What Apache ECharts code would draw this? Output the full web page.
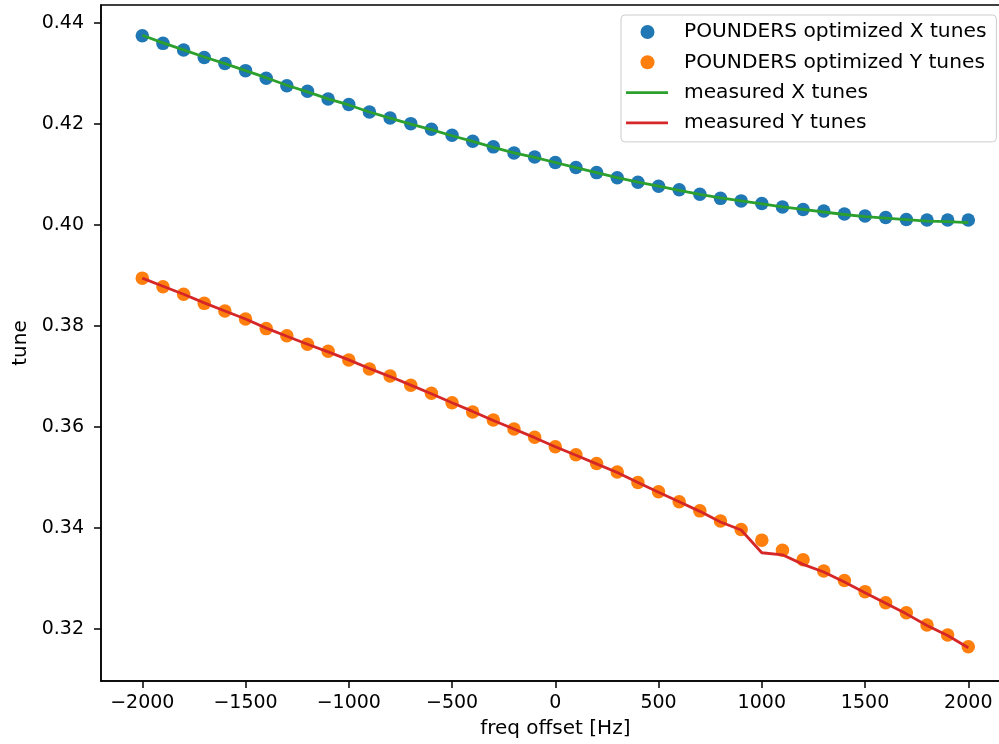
<!DOCTYPE html>
<html>
<head>
<meta charset="utf-8">
<script src="https://cdn.jsdelivr.net/npm/echarts@6/dist/echarts.min.js"></script>
<style>
  html, body { margin: 0; padding: 0; background: #fff; }
  #chart { width: 999px; height: 744px; }
</style>
</head>
<body>
<div id="chart"></div>
<script>
// frequency offsets [Hz]
const freqOffset = [
  -2000, -1900, -1800, -1700, -1600, -1500, -1400, -1300, -1200, -1100,
  -1000, -900, -800, -700, -600, -500, -400, -300, -200, -100,
  0, 100, 200, 300, 400, 500, 600, 700, 800, 900,
  1000, 1100, 1200, 1300, 1400, 1500, 1600, 1700, 1800, 1900, 2000
]

// POUNDERS optimized tunes
const optX = [
  0.4375, 0.4360, 0.4347, 0.4332, 0.4320, 0.4306, 0.4291, 0.4276, 0.4265, 0.4250,
  0.4239, 0.4224, 0.4212, 0.4201, 0.4190, 0.4178, 0.4166, 0.4155, 0.4143, 0.4135,
  0.4124, 0.4114, 0.4104, 0.4094, 0.4085, 0.4077, 0.4070, 0.4061, 0.4053, 0.4048,
  0.4043, 0.4036, 0.4031, 0.4028, 0.4022, 0.4018, 0.4015, 0.4011, 0.4010, 0.4010, 0.4010
]
const optY = [
  0.3895, 0.3878, 0.3863, 0.3845, 0.3830, 0.3814, 0.3795, 0.3781, 0.3764, 0.3750,
  0.3733, 0.3715, 0.3701, 0.3683, 0.3667, 0.3648, 0.3630, 0.3614, 0.3596, 0.3580,
  0.3561, 0.3545, 0.3528, 0.3511, 0.3490, 0.3472, 0.3452, 0.3434, 0.3414, 0.3397,
  0.3376, 0.3356, 0.3337, 0.3315, 0.3296, 0.3274, 0.3252, 0.3232, 0.3208, 0.3188, 0.3165
]

// measured tunes
const measX = [
  0.4376, 0.4361, 0.4347, 0.4333, 0.4320, 0.4306, 0.4292, 0.4277, 0.4264, 0.4250,
  0.4238, 0.4224, 0.4212, 0.4200, 0.4189, 0.4177, 0.4166, 0.4154, 0.4143, 0.4134,
  0.4124, 0.4114, 0.4104, 0.4094, 0.4085, 0.4077, 0.4069, 0.4061, 0.4054, 0.4048,
  0.4042, 0.4036, 0.4031, 0.4026, 0.4021, 0.4017, 0.4014, 0.4011, 0.4008, 0.4007, 0.4005
]
const measY = [
  0.3895, 0.3879, 0.3863, 0.3846, 0.3830, 0.3814, 0.3796, 0.3780, 0.3764, 0.3749,
  0.3733, 0.3716, 0.3700, 0.3683, 0.3666, 0.3648, 0.3631, 0.3613, 0.3596, 0.3579,
  0.3561, 0.3544, 0.3527, 0.3510, 0.3490, 0.3471, 0.3452, 0.3433, 0.3412, 0.3396,
  0.3351, 0.3347, 0.3328, 0.3313, 0.3293, 0.3272, 0.3251, 0.3230, 0.3207, 0.3187, 0.3163
]

const xTicks = [-2000, -1500, -1000, -500, 0, 500, 1000, 1500, 2000]
const yTicks = [0.32, 0.34, 0.36, 0.38, 0.40, 0.42, 0.44]

const pairs = (ys) => freqOffset.map((x, i) => [x, ys[i]])

const font = 'DejaVu Sans'
const dotIcon = 'path://M0,0 L0,0 M53,14 L53,14 M14.5,7 A7,7 0 1 1 28.5,7 A7,7 0 1 1 14.5,7 Z'
const lineIcon = 'path://M0,0 L0,0 M53,14 L53,14 M0,5.6 L42,5.6 L42,8.4 L0,8.4 Z'

const chart = echarts.init(document.getElementById('chart'))
chart.setOption({
  animation: false,
  textStyle: { fontFamily: font },
  grid: {
    left: 101, top: 5, width: 908.6, height: 676,
    outerBoundsMode: 'none', containLabel: false,
    show: true, borderColor: '#000', borderWidth: 1.5, backgroundColor: 'transparent'
  },
  legend: {
    orient: 'vertical',
    left: 621, top: 15,
    itemWidth: 53, itemHeight: 14, itemGap: 10.3,
    padding: [7, 10, 9, 5],
    backgroundColor: 'rgba(255,255,255,0.8)',
    borderColor: '#cccccc', borderWidth: 1, borderRadius: 4,
    itemStyle: { borderWidth: 0 },
    textStyle: { fontSize: 20.2, color: '#000', fontFamily: font },
    data: [
      { name: 'POUNDERS optimized X tunes', icon: dotIcon },
      { name: 'POUNDERS optimized Y tunes', icon: dotIcon },
      { name: 'measured X tunes', icon: lineIcon },
      { name: 'measured Y tunes', icon: lineIcon }
    ]
  },
  xAxis: {
    type: 'value', min: -2200, max: 2200,
    name: 'freq offset [Hz]', nameLocation: 'middle', nameGap: 38,
    nameTextStyle: { fontSize: 20, color: '#000', fontFamily: font },
    axisLine: { show: true, onZero: false, lineStyle: { color: '#000', width: 1.5 } },
    axisTick: { show: true, length: 7, lineStyle: { color: '#000', width: 1.5 }, customValues: xTicks },
    axisLabel: {
      customValues: xTicks, fontSize: 19, color: '#000', margin: 13, fontFamily: font,
      formatter: (v) => (v < 0 ? '\u2212' + Math.abs(v) : String(v))
    },
    splitLine: { show: false }
  },
  yAxis: {
    type: 'value', min: 0.3097, max: 0.4436,
    name: 'tune', nameLocation: 'middle', nameGap: 70,
    nameTextStyle: { fontSize: 20, color: '#000', fontFamily: font },
    axisLine: { show: true, onZero: false, lineStyle: { color: '#000', width: 1.5 } },
    axisTick: { show: true, length: 7, lineStyle: { color: '#000', width: 1.5 }, customValues: yTicks },
    axisLabel: {
      customValues: yTicks, fontSize: 19, color: '#000', margin: 17, fontFamily: font,
      formatter: (v) => v.toFixed(2)
    },
    splitLine: { show: false }
  },
  series: [
    {
      name: 'POUNDERS optimized X tunes', type: 'scatter', z: 2,
      symbolSize: 13.5, itemStyle: { color: '#1f77b4', opacity: 1 },
      data: pairs(optX)
    },
    {
      name: 'POUNDERS optimized Y tunes', type: 'scatter', z: 2,
      symbolSize: 13.5, itemStyle: { color: '#ff7f0e', opacity: 1 },
      data: pairs(optY)
    },
    {
      name: 'measured X tunes', type: 'line', z: 3, showSymbol: false, symbol: 'none',
      itemStyle: { color: '#2ca02c' }, lineStyle: { color: '#2ca02c', width: 2.8 },
      data: pairs(measX)
    },
    {
      name: 'measured Y tunes', type: 'line', z: 3, showSymbol: false, symbol: 'none',
      itemStyle: { color: '#d62728' }, lineStyle: { color: '#d62728', width: 2.8 },
      data: pairs(measY)
    }
  ]
})
</script>
</body>
</html>
